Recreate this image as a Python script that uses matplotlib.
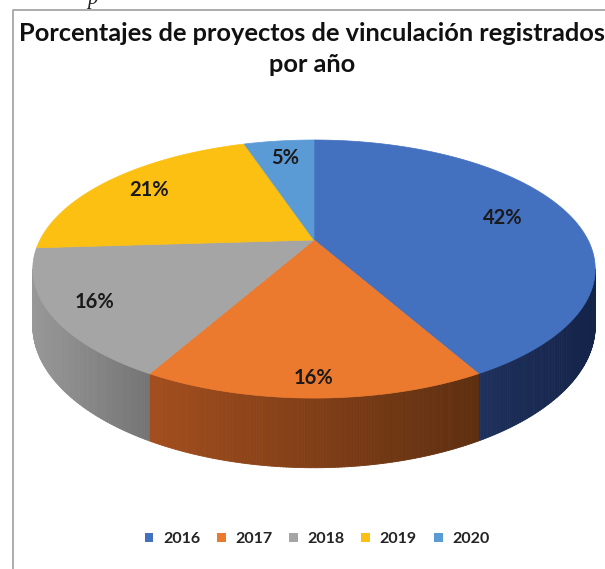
import numpy as np
import matplotlib
matplotlib.use("Agg")
import matplotlib.pyplot as plt
from matplotlib.patches import Polygon, Patch
from matplotlib.collections import PolyCollection
from matplotlib.colors import to_rgb

# data
years = ["2016", "2017", "2018", "2019", "2020"]
percent = [42, 16, 16, 21, 5]
top_colors = ["#4470c0", "#ec7a2e", "#a5a5a5", "#fcc012", "#5b9bd5"]
# side wall gradient (left -> right on screen)
side_colors = [("#1e305c", "#142348"), ("#a34e1e", "#5e2f10"),
               ("#989898", "#747474"), ("#b08a10", "#8a6a0a"), ("#3f6f9e", "#2d5580")]
label_r = [0.74, 0.9, 0.85, 0.8, 0.8]

title = "Porcentajes de proyectos de vinculación registrados\npor año"

W, H = 605, 569
CX, CY = 314, 240      # apex of the pie in pixels
A, B = 274, 122.5      # horizontal / vertical radius
K = 0.225              # perspective strength
D = 54                 # thickness


def proj(phi, f=1.0, depth=0.0):
    phi = np.radians(phi)
    X = f * np.sin(phi)
    Y = -f * np.cos(phi)
    w = 1 - K * Y
    return CX + A * X / w, CY + (B * Y + depth) / w


fig = plt.figure(figsize=(W / 100, H / 100), dpi=100)
ax = fig.add_axes([0, 0, 1, 1])
ax.set_xlim(0, W)
ax.set_ylim(H, 0)
ax.axis("off")

# frame of the chart
ax.plot([13, 13, W], [H, 10, 10], color="#a6a6a6", lw=1.3, solid_capstyle="butt")
ax.text(92, 4, "p", fontsize=15, fontstyle="italic", family="Liberation Serif",
        ha="center", va="baseline", color="#222222")

total = float(sum(percent))
starts = np.cumsum([0] + percent[:-1]) / total * 360
ends = np.cumsum(percent) / total * 360

# visible part of the rim (silhouette of the perspective ellipse)
rim_lo = np.degrees(np.arccos(-K))
rim_hi = 360 - rim_lo

# side walls
for s, e, (c0, c1) in zip(starts, ends, side_colors):
    lo, hi = max(s, rim_lo), min(e, rim_hi)
    if hi <= lo:
        continue
    phis = np.linspace(lo, hi, int((hi - lo) * 2) + 2)
    c0, c1 = np.array(to_rgb(c0)), np.array(to_rgb(c1))
    xs_all, _ = proj(phis)
    xmin, xmax = xs_all.min(), xs_all.max()
    quads, cols = [], []
    for i in range(len(phis) - 1):
        p0, p1 = phis[i], phis[i + 1]
        x0, y0 = proj(p0)
        x1, y1 = proj(p1)
        bx0, by0 = proj(p0, depth=D)
        bx1, by1 = proj(p1, depth=D)
        quads.append([(x0, y0), (x1, y1), (bx1, by1), (bx0, by0)])
        t = ((x0 + x1) / 2 - xmin) / max(xmax - xmin, 1)
        cols.append(c0 * (1 - t) + c1 * t)
    ax.add_collection(PolyCollection(quads, facecolors=cols, edgecolors=cols, linewidths=0.6))

# top surface
for s, e, c in zip(starts, ends, top_colors):
    phis = np.linspace(s, e, int((e - s) * 2) + 2)
    xs, ys = proj(phis)
    pts = [(CX, CY)] + list(zip(xs, ys))
    ax.add_patch(Polygon(pts, closed=True, facecolor=c, edgecolor=c, lw=0.5))

# labels
for s, e, v, f in zip(starts, ends, percent, label_r):
    lx, ly = proj((s + e) / 2, f=f)
    ax.text(lx, ly, f"{v}%", ha="center", va="center", fontsize=14.5,
            fontweight="bold", family="Lato", color="#1a1a1a")

ax.text(312, 49, title, ha="center", va="center", fontsize=18.3, fontweight="bold",
        family="Lato", color="#111111", linespacing=1.38)

handles = [Patch(facecolor=c, edgecolor="none") for c in top_colors]
leg = fig.legend(handles, years, loc="center", bbox_to_anchor=(317 / W, 1 - 539 / H),
                 ncol=5, frameon=False, handlelength=0.55, handleheight=0.55,
                 handletextpad=0.6, columnspacing=1.05,
                 prop={"family": "Lato", "weight": "bold", "size": 11.5})
for t in leg.get_texts():
    t.set_color("#222222")

fig.savefig("out.png", dpi=100)
